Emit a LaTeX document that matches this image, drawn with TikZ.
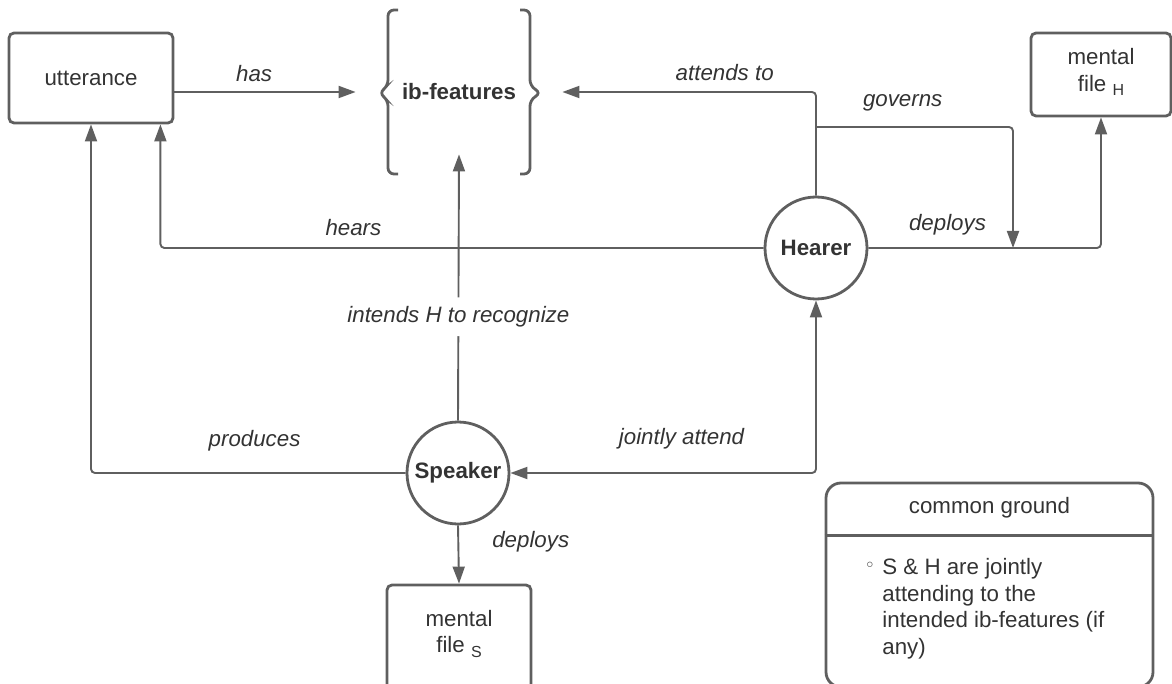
\documentclass[tikz,border=0pt]{standalone}
\usepackage{fontspec}
\setmainfont{Liberation Sans}
\newfontfamily\symfont{DejaVu Sans}
\usetikzlibrary{arrows.meta}
\definecolor{linegray}{HTML}{5F5F5F}
\definecolor{textgray}{HTML}{333333}
\newcommand{\fsub}[1]{\raisebox{-2.2pt}{\fontsize{8}{8}\selectfont #1}}
\tikzset{
  box/.style={draw=linegray, line width=1.4pt, rounded corners=2.5pt, align=center, inner sep=0pt},
  agent/.style={circle, draw=linegray, line width=1.4pt, minimum size=51pt, inner sep=0pt, font=\fontsize{11.15}{13.4}\selectfont\bfseries},
  conn/.style={draw=linegray, line width=0.95pt, rounded corners=2pt, -{Triangle[length=8.5pt,width=6pt]}},
  lab/.style={font=\fontsize{11.15}{13.4}\selectfont\itshape, inner sep=0pt, anchor=base},
  brace/.style={draw=linegray, line width=1.4pt, rounded corners=3pt},
}
\begin{document}
\begin{tikzpicture}[x=0.5pt, y=-0.5pt, every node/.style={text=textgray, font=\fontsize{11.15}{13.4}\selectfont}]
\useasboundingbox (0,0) rectangle (1172,684);

% boxes and agents
\node[box, minimum width=82pt, minimum height=45pt] (utt) at (91,78) {utterance};
\node[box, minimum width=70pt, minimum height=41.5pt, text depth=4.5pt] (mfH) at (1101,74.5) {mental\\file \fsub{H}};
\node[box, minimum width=72pt, minimum height=54pt, text depth=7.5pt] (mfS) at (459,639) {mental\\file \fsub{S}};
\node[minimum width=103pt, minimum height=62pt, inner sep=0pt, font=\fontsize{11.15}{13.4}\selectfont\bfseries] (feat) at (459,92) {ib-features};
\node[agent] (hearer) at (816,248) {Hearer};
\node[agent] (speaker) at (458,473) {Speaker};

% braces round ib-features
\draw[brace] (398,10) -- (388,10) -- (388,86) -- (379,93) -- (388,100) -- (388,174) -- (398,174);
\draw[brace] (520,10) -- (530,10) -- (530,86) -- (541,93) -- (530,100) -- (530,174) -- (520,174);

% common ground
\node[draw=linegray, line width=1.4pt, rounded corners=7.5pt, minimum width=163.5pt, minimum height=102pt, inner sep=0pt] (cg) at (989.5,585) {};
\draw[linegray, line width=1.4pt] ([yshift=-27pt]cg.north west) -- ([yshift=-27pt]cg.north east);
\node[anchor=base] (cgtitle) at (989.5,513) {common ground};
\node[anchor=center, font=\symfont\fontsize{9}{9}\selectfont] (cgdot) at (870,567) {◦};
\node[anchor=north west, align=left, inner sep=0pt, font=\fontsize{11.15}{13.35}\selectfont] (cgbody) at (882,558)
  {S \& H are jointly\\attending to the\\intended ib-features (if\\any)};

% connectors
\coordinate (gov) at (816,127);
\coordinate (dep) at (1013,248);
\draw[conn] (feat.west -| utt.east) -- node[lab, pos=.44, yshift=5pt] {has} (feat.west);
\draw[conn] (hearer.north) |- node[lab, pos=.68, yshift=5.5pt] {attends to} (feat.east);
\draw[conn] (gov) -| node[lab, pos=.22, yshift=10pt] {governs} (dep);
\draw[conn] (hearer.east) -| node[lab, pos=.17, yshift=8.5pt] {deploys} (mfH.south);
\draw[conn] (hearer.west) -| node[lab, pos=.34, yshift=6pt] {hears} ([xshift=-7pt]utt.south east);
\draw[conn] (speaker.west) -| node[lab, pos=.24, yshift=13.5pt] {produces} (utt.south);
\draw[conn, {Triangle[length=8.5pt,width=6pt]}-{Triangle[length=8.5pt,width=6pt]}] (hearer.south) |- node[lab, pos=.72, yshift=14.5pt] {jointly attend} (speaker.east);
\draw[conn] (speaker.north) -- node[lab, pos=.39, anchor=center, fill=white, inner xsep=2pt, inner ysep=4.5pt] {intends H to recognize} (feat.south);
\draw[conn] (speaker.south) -- node[lab, pos=.38, anchor=base west, xshift=16.5pt] {deploys} (mfS.north);
\end{tikzpicture}
\end{document}
